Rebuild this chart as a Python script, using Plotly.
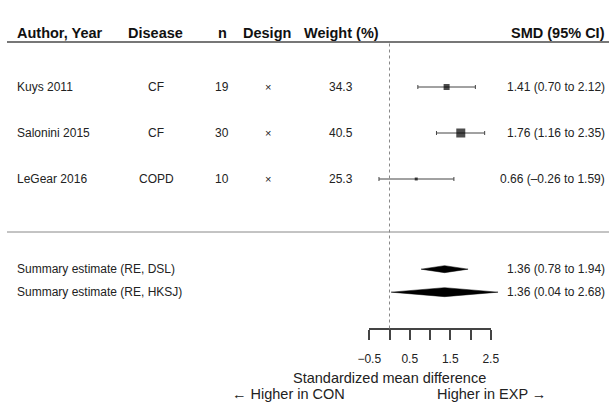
import plotly.graph_objects as go

# ---------------- data ----------------
authors = ["Kuys 2011", "Salonini 2015", "LeGear 2016"]
diseases = ["CF", "CF", "COPD"]
n_vals = [19, 30, 10]
designs = ["×", "×", "×"]
weights = [34.3, 40.5, 25.3]
smd = [1.41, 1.76, 0.66]
ci_lo = [0.70, 1.16, -0.26]
ci_hi = [2.12, 2.35, 1.59]

summary_labels = ["Summary estimate (RE, DSL)", "Summary estimate (RE, HKSJ)"]
summary_est = [1.36, 1.36]
summary_lo = [0.78, 0.04]
summary_hi = [1.94, 2.68]

axis_ticks = [-0.5, 0, 0.5, 1, 1.5, 2, 2.5]
axis_ticklabels = ["\u22120.5", "", "0.5", "", "1.5", "", "2.5"]

headers = ["Author, Year", "Disease", "n", "Design", "Weight (%)", "SMD (95% CI)"]

# ---------------- layout constants (styles / positions) ----------------
W, H = 609, 403
X0_PX = 389.5          # pixel position of SMD = 0
PX_PER_UNIT = 40.5     # pixels per SMD unit
ROW_PX = 23            # pixels per row unit
ROW0_PX = 87           # pixel position of row 0
FONT = "Liberation Sans, Arial, Helvetica, sans-serif"
TXT = "#222222"

study_rows = [0, 2, 4]
summary_rows = [7.92, 8.92]
marker_sizes = [6, 9, 3]
diamond_half_px = [3.5, 4.5]


def row_of(px):
    return (px - ROW0_PX) / ROW_PX


def fmt(v):
    s = f"{v:.2f}"
    return s.replace("-", "\u2013")


def ci_text(e, l, h):
    return f"{fmt(e)} ({fmt(l)} to {fmt(h)})"


header_row = row_of(33)
header_line_row = row_of(42)
sep_row = row_of(232)
axis_px = 329

fig = go.Figure()

# study estimates with CIs
fig.add_trace(go.Scatter(
    x=smd, y=study_rows, mode="markers",
    marker=dict(symbol="square", size=marker_sizes, color="black",
                line=dict(width=0)),
    error_x=dict(type="data", symmetric=False,
                 array=[h - e for e, h in zip(smd, ci_hi)],
                 arrayminus=[e - l for e, l in zip(smd, ci_lo)],
                 color="#444444", thickness=1, width=2),
    hoverinfo="skip", showlegend=False,
))

# summary diamonds
for r, e, l, h, hp in zip(summary_rows, summary_est, summary_lo, summary_hi, diamond_half_px):
    d = hp / ROW_PX
    fig.add_trace(go.Scatter(
        x=[l, e, h, e, l], y=[r, r - d, r, r + d, r],
        mode="lines", fill="toself", fillcolor="black",
        line=dict(color="black", width=0.5),
        hoverinfo="skip", showlegend=False,
    ))

# invisible trace to carry the visible SMD axis
fig.add_trace(go.Scatter(
    x=[axis_ticks[0], axis_ticks[-1]], y=[row_of(axis_px), row_of(axis_px)],
    xaxis="x2", yaxis="y", mode="markers", marker=dict(opacity=0),
    hoverinfo="skip", showlegend=False,
))

annotations = []


def add_text(text, xpx, yrow, anchor, size=12, bold=False, color=TXT):
    annotations.append(dict(
        text=f"<b>{text}</b>" if bold else text,
        x=xpx / W, xref="paper", y=yrow, yref="y",
        xanchor=anchor, yanchor="middle", showarrow=False,
        font=dict(family=FONT, size=size, color=color),
        borderpad=0, borderwidth=0,
    ))


# header
hdr_pos = [(17, "left"), (155.5, "center"), (222, "center"), (267, "center"),
           (341, "center"), (605, "right")]
for t, (xp, an) in zip(headers, hdr_pos):
    add_text(t, xp, header_row, an, size=14.5, bold=True, color="#111111")

# study rows
for i, r in enumerate(study_rows):
    add_text(authors[i], 17, r, "left")
    add_text(diseases[i], 156, r, "center")
    add_text(str(n_vals[i]), 222, r, "center")
    add_text(designs[i], 268, r, "center", size=11)
    add_text(f"{weights[i]:.1f}", 341, r, "center")
    add_text(ci_text(smd[i], ci_lo[i], ci_hi[i]), 605, r, "right")

# summary rows
for i, r in enumerate(summary_rows):
    add_text(summary_labels[i], 17, r, "left")
    add_text(ci_text(summary_est[i], summary_lo[i], summary_hi[i]), 605, r, "right")

# axis title and direction labels
add_text("Standardized mean difference", X0_PX, row_of(378), "center", size=14.5)
add_text("\u2190 Higher in CON", 345, row_of(394), "right", size=14.5)
add_text("Higher in EXP \u2192", 437, row_of(394), "left", size=14.5)

shapes = [
    dict(type="line", xref="paper", yref="y", x0=7 / W, x1=1,
         y0=header_line_row, y1=header_line_row,
         line=dict(color="#777777", width=2)),
    dict(type="line", xref="paper", yref="y", x0=7 / W, x1=1,
         y0=sep_row, y1=sep_row,
         line=dict(color="#888888", width=1)),
    dict(type="line", xref="x", yref="y", x0=0, x1=0,
         y0=header_line_row + 1.5 / ROW_PX, y1=row_of(axis_px),
         line=dict(color="#888888", width=1, dash="dot")),
]

fig.update_layout(
    width=W, height=H,
    margin=dict(l=0, r=0, t=0, b=0, autoexpand=False),
    paper_bgcolor="white", plot_bgcolor="rgba(0,0,0,0)",
    xaxis=dict(range=[-X0_PX / PX_PER_UNIT, (W - X0_PX) / PX_PER_UNIT],
               domain=[0, 1], visible=False, fixedrange=True),
    xaxis2=dict(
        range=[axis_ticks[0], axis_ticks[-1]],
        domain=[(X0_PX + axis_ticks[0] * PX_PER_UNIT) / W,
                (X0_PX + axis_ticks[-1] * PX_PER_UNIT) / W],
        anchor="free", position=(H - axis_px) / H, side="bottom",
        showline=True, linecolor="#444444", linewidth=1.5,
        ticks="outside", ticklen=10, tickwidth=1.5, tickcolor="#444444",
        tickmode="array", tickvals=axis_ticks, ticktext=axis_ticklabels,
        ticklabelstandoff=9,
        tickfont=dict(family=FONT, size=12, color=TXT),
        showgrid=False, zeroline=False, fixedrange=True,
    ),
    yaxis=dict(range=[(H - ROW0_PX) / ROW_PX, -ROW0_PX / ROW_PX],
               domain=[0, 1], visible=False, fixedrange=True),
    annotations=annotations,
    shapes=shapes,
    showlegend=False,
)

fig.write_html("out.html")
